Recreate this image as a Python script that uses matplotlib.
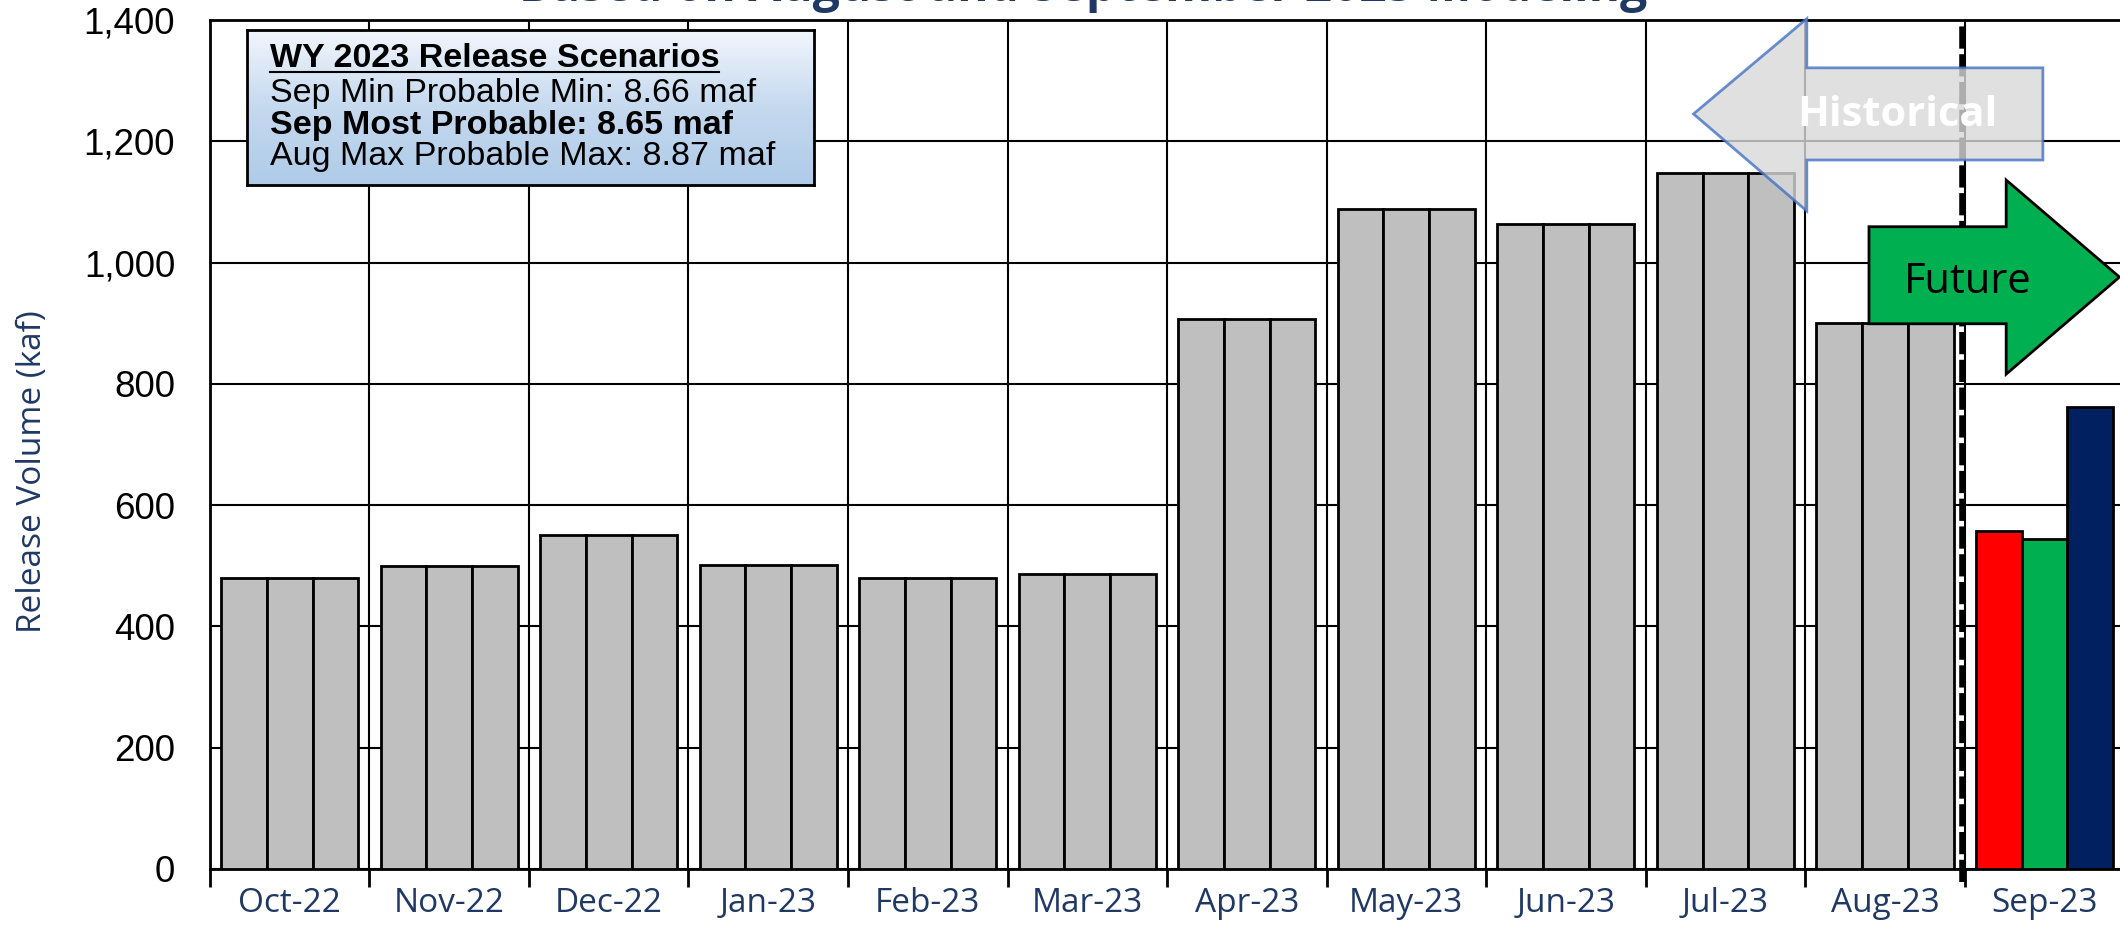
import matplotlib.pyplot as plt
import numpy as np
from matplotlib.patches import Polygon
from matplotlib.colors import LinearSegmentedColormap
from matplotlib.ticker import FuncFormatter, MultipleLocator, FixedLocator

# 数据
months = ['Oct-22', 'Nov-22', 'Dec-22', 'Jan-23', 'Feb-23', 'Mar-23',
          'Apr-23', 'May-23', 'Jun-23', 'Jul-23', 'Aug-23', 'Sep-23']
min_probable = [479, 499, 551, 502, 479, 486, 907, 1088, 1063, 1148, 900, 557]
most_probable = [479, 499, 551, 502, 479, 486, 907, 1088, 1063, 1148, 900, 544]
max_probable = [479, 499, 551, 502, 479, 486, 907, 1088, 1063, 1148, 900, 762]
n_hist = 11

title = 'Based on August and September 2023 Modeling'
box_lines = ['WY 2023 Release Scenarios',
             'Sep Min Probable Min: 8.66 maf',
             'Sep Most Probable: 8.65 maf',
             'Aug Max Probable Max: 8.87 maf']

NAVY = '#1f3864'

fig = plt.figure(figsize=(21.2, 9.31), dpi=100)
ax = fig.add_axes([0.099, 0.0666, 0.903, 0.912])

x = np.arange(len(months))
w = 0.2867
gap = 0.07
future_colors = ['#ff0000', '#00b050', '#002060']
for j, (vals, fc) in enumerate(zip([min_probable, most_probable, max_probable], future_colors)):
    colors = ['#bfbfbf'] * n_hist + [fc]
    ax.bar(x + gap + j * w, vals, width=w, align='edge', color=colors,
           edgecolor='black', linewidth=2, zorder=3)

ax.set_xlim(0, len(months))
ax.set_ylim(0, 1400)
ax.yaxis.set_major_locator(MultipleLocator(200))
ax.yaxis.set_major_formatter(FuncFormatter(lambda v, p: f'{v:,.0f}'))
ax.tick_params(axis='y', length=0, labelsize=26.5, pad=25)
for lab in ax.get_yticklabels():
    lab.set_family('Liberation Sans')

ax.xaxis.set_major_locator(FixedLocator(np.arange(len(months) + 1)))
ax.xaxis.set_minor_locator(FixedLocator(x + 0.5))
ax.set_xticklabels([], minor=False)
ax.set_xticklabels(months, minor=True)
ax.tick_params(axis='x', which='major', length=13, width=2, direction='out')
ax.tick_params(axis='x', which='minor', length=0, labelsize=24, labelcolor=NAVY, pad=13)
for lab in ax.get_xticklabels(minor=True):
    lab.set_family('Open Sans')

ax.set_axisbelow(True)
ax.grid(True, which='major', color='black', linewidth=1.5)
for s in ax.spines.values():
    s.set_linewidth(2)

ax.set_ylabel('Release Volume (kaf)', fontsize=24, color=NAVY, family='Open Sans')
ax.yaxis.set_label_coords(-0.084, 0.468)

# 历史/未来分隔线
ax.plot([n_hist - 0.02] * 2, [-22, 1400], color='black', lw=4, ls=(0, (4, 1)),
        zorder=5, clip_on=False)

# Historical 箭头
hist_arrow = [(9.30, 1245), (10.01, 1402), (10.01, 1321), (11.49, 1321),
              (11.49, 1169), (10.01, 1169), (10.01, 1085)]
ax.add_patch(Polygon(hist_arrow, closed=True, facecolor='#d9d9d9', alpha=0.8,
                     edgecolor='#4472c4', lw=2, zorder=6, clip_on=False))
ax.text(10.58, 1242, 'Historical', color='white', fontsize=30, fontweight='bold',
        family='Open Sans', ha='center', va='center', zorder=7)

# Future 箭头
fut_arrow = [(10.40, 1059), (11.26, 1059), (11.26, 1136), (11.97, 976),
             (11.26, 816), (11.26, 899), (10.40, 899)]
ax.add_patch(Polygon(fut_arrow, closed=True, facecolor='#00b050',
                     edgecolor='black', lw=2, zorder=6, clip_on=False))
ax.text(11.02, 968, 'Future', color='black', fontsize=30, family='Open Sans',
        ha='center', va='center', zorder=7)

# 图例框（渐变背景）
box = ax.inset_axes([0.232, 1128, 3.79 - 0.232, 1384 - 1128], transform=ax.transData, zorder=8)
cmap = LinearSegmentedColormap.from_list('box', ['#f2f6fc', '#c5d9ef', '#afcbe8'])
box.imshow(np.linspace(0, 1, 100).reshape(-1, 1), cmap=cmap, aspect='auto',
           extent=[0, 1, 0, 1], origin='upper')
box.set_xlim(0, 1)
box.set_ylim(0, 1)
box.set_xticks([])
box.set_yticks([])
for s in box.spines.values():
    s.set_linewidth(2)

ys = [0.815, 0.59, 0.385, 0.18]
for i, (txt, yy) in enumerate(zip(box_lines, ys)):
    bold = i in (0, 2)
    t = box.text(0.04, yy, txt, fontsize=24.5, family='Liberation Sans',
                 fontweight='bold' if bold else 'normal', va='center', ha='left')
    if i == 0:
        fig.canvas.draw()
        bb = t.get_window_extent().transformed(box.transAxes.inverted())
        box.plot([bb.x0, bb.x1], [bb.y0 + 0.015, bb.y0 + 0.015], color='black', lw=1.5)

fig.text(0.511, 0.9989, title, ha='center', va='baseline', color=NAVY,
         fontsize=34.5, fontweight='bold', family='Open Sans')

fig.savefig('out.png', dpi=100)
